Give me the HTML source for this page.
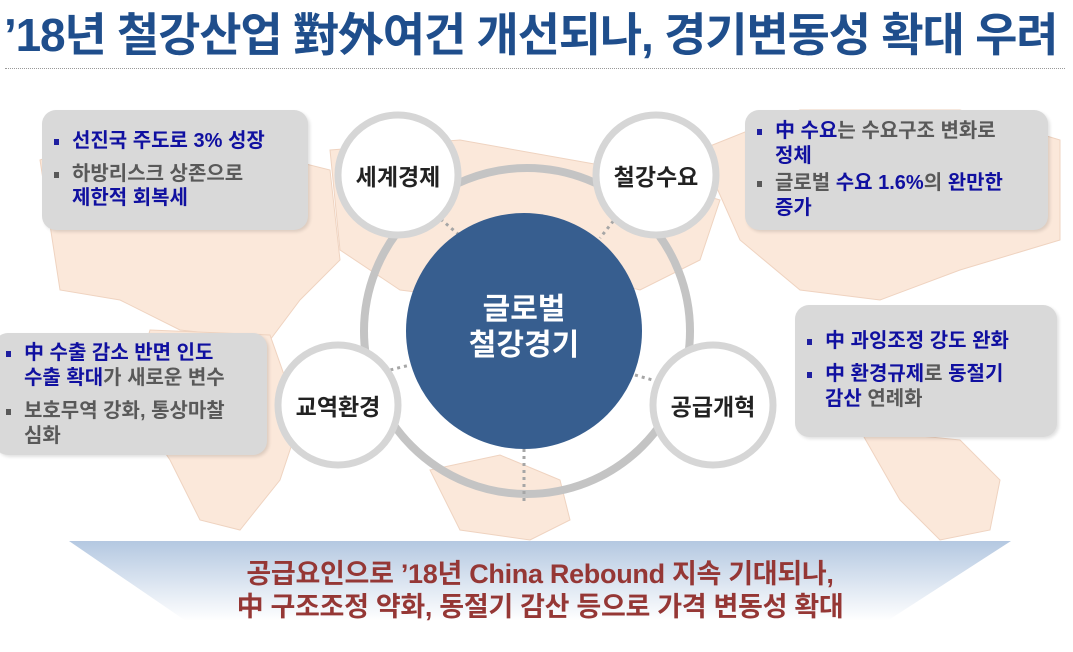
<!DOCTYPE html>
<html><head><meta charset="utf-8"><style>
*{margin:0;padding:0;box-sizing:border-box}
body{width:1073px;height:652px;background:#fff;position:relative;overflow:hidden;font-family:"Liberation Sans","Noto Sans CJK KR","NanumGothic",sans-serif}
.title{position:absolute;left:4px;top:-1px;font-size:46px;font-weight:bold;color:#1f4e8c;white-space:nowrap;letter-spacing:-1.2px}
.rule{position:absolute;left:5px;top:68px;width:1060px;border-top:1px dotted #999}
.box{position:absolute;background:#d9d9d9;border-radius:14px;box-shadow:2px 2px 3px rgba(0,0,0,0.12);font-size:20px;font-weight:bold;line-height:25px;color:#595959;padding:10px 12px;white-space:nowrap}
.box p{padding-left:18px;position:relative;margin-bottom:8px}
.box p:before{content:"";position:absolute;left:0;top:10px;width:5px;height:6px;background:#595959}
.box p.b:before{background:#1f1fa0}
.bl{color:#1010a0}
.t{position:absolute;font-weight:bold;color:#222;font-size:23px;text-align:center}
</style></head><body>
<svg width="1073" height="652" style="position:absolute;left:0;top:0">
<defs><linearGradient id="g" x1="0" y1="0" x2="0" y2="1"><stop offset="0" stop-color="#b4c8e1"/><stop offset="1" stop-color="#fff"/></linearGradient></defs>
<g fill="#fbe8da" stroke="#efd3c0" stroke-width="1">
<path d="M40 160 Q120 130 250 150 L330 170 L340 260 L300 300 L270 340 L180 330 L120 300 L60 290 Z"/>
<path d="M150 330 L270 335 L300 420 L280 480 L240 530 L200 520 L170 460 L130 400 Z"/>
<path d="M330 150 L460 140 L600 165 L720 200 L700 260 L640 290 L560 270 L480 300 L400 290 L340 250 Z"/>
<path d="M430 470 L500 455 L560 480 L570 520 L530 540 L460 530 Z"/>
<path d="M700 150 L800 110 L960 110 L1060 140 L1060 240 L960 270 L880 300 L800 290 L740 240 Z"/>
<path d="M860 430 L960 440 L1000 480 L990 530 L940 540 L900 500 Z"/>
</g>
<path d="M69 541 L1011 541 L887 621 L186 621 Z" fill="url(#g)"/>
<circle cx="527" cy="331" r="163" fill="none" stroke="#c4c4c4" stroke-width="8"/>
<g stroke="#a6a6a6" stroke-width="3" stroke-dasharray="3 4">
<line x1="430" y1="210" x2="465" y2="240"/>
<line x1="622" y1="210" x2="600" y2="238"/>
<line x1="370" y1="375" x2="410" y2="365"/>
<line x1="635" y1="375" x2="670" y2="385"/>
<line x1="524" y1="449" x2="524" y2="505"/>
</g>
<circle cx="524" cy="331" r="118" fill="#375e8f"/>
<g fill="#fff" stroke="#d6d6d6" stroke-width="7">
<circle cx="398" cy="175" r="60"/>
<circle cx="656" cy="175" r="60"/>
<circle cx="338" cy="405" r="60"/>
<circle cx="713" cy="405" r="60"/>
</g>
</svg>
<div class="title">’18년 철강산업 對外여건 개선되나, 경기변동성 확대 우려</div>
<div class="rule"></div>
<div class="t" style="left:338px;top:158px;width:120px">세계경제</div>
<div class="t" style="left:596px;top:158px;width:120px">철강수요</div>
<div class="t" style="left:278px;top:388px;width:120px">교역환경</div>
<div class="t" style="left:653px;top:388px;width:120px">공급개혁</div>
<div class="t" style="left:414px;top:292px;width:220px;color:#fff;font-size:30px;line-height:36px">글로벌<br>철강경기</div>
<div class="box" style="left:42px;top:110px;width:266px;height:120px;padding-top:19px"><p class="b bl">선진국 주도로 3% 성장</p><p style="line-height:24px">하방리스크 상존으로<br><span class="bl">제한적 회복세</span></p></div>
<div class="box" style="left:745px;top:110px;width:303px;height:120px;padding-top:9px"><p class="b" style="margin-bottom:2px"><span class="bl">中 수요</span>는 수요구조 변화로<br><span class="bl">정체</span></p><p>글로벌 <span class="bl">수요 1.6%</span>의 <span class="bl">완만한</span><br><span class="bl">증가</span></p></div>
<div class="box" style="left:-6px;top:333px;width:273px;height:122px;padding-top:8px"><p class="b"><span class="bl">中 수출 감소 반면 인도<br>수출 확대</span>가 새로운 변수</p><p>보호무역 강화, 통상마찰<br>심화</p></div>
<div class="box" style="left:795px;top:305px;width:262px;height:132px;padding-top:24px"><p class="b bl">中 과잉조정 강도 완화</p><p class="b"><span class="bl">中 환경규제</span>로 <span class="bl">동절기<br>감산</span> 연례화</p></div>
<div style="position:absolute;left:40px;top:558px;width:1000px;text-align:center;color:#953735;font-weight:bold;font-size:27px;line-height:33px;letter-spacing:-0.3px">공급요인으로 ’18년 China Rebound 지속 기대되나,<br>中 구조조정 약화, 동절기 감산 등으로 가격 변동성 확대</div>
</body></html>
